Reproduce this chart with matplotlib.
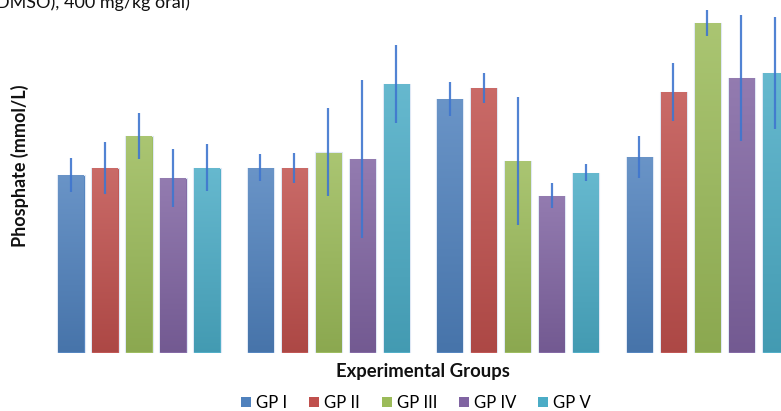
import numpy as np
import matplotlib
matplotlib.use("Agg")
import matplotlib.pyplot as plt
from matplotlib.patches import Patch
from matplotlib.colors import to_rgb

plt.rcParams["font.family"] = ["Lato", "DejaVu Sans"]

# ---- data (phosphate, mmol/L) ----
# one list per series, one value per block of bars
series = ["GP I", "GP II", "GP III", "GP IV", "GP V"]
phos_gp1 = [1.78, 1.85, 2.54, 1.96]
phos_gp2 = [1.85, 1.85, 2.65, 2.61]
phos_gp3 = [2.17, 2.01, 1.92, 3.30]
phos_gp4 = [1.75, 1.94, 1.57, 2.75]
phos_gp5 = [1.85, 2.69, 1.80, 2.80]
err_gp1 = [0.17, 0.135, 0.17, 0.21]
err_gp2 = [0.26, 0.15, 0.15, 0.285]
err_gp3 = [0.225, 0.435, 0.64, 0.13]
err_gp4 = [0.29, 0.79, 0.125, 0.635]
err_gp5 = [0.235, 0.385, 0.085, 0.555]

values = [phos_gp1, phos_gp2, phos_gp3, phos_gp4, phos_gp5]
errors = [err_gp1, err_gp2, err_gp3, err_gp4, err_gp5]
colors = ["#4f81bd", "#c0504d", "#9bbb59", "#8064a2", "#4bacc6"]

fig = plt.figure(figsize=(7.81, 4.11), dpi=100)
ax = fig.add_axes([0, 58 / 411, 1, 353 / 411])

n_blocks = len(phos_gp1)
centers = np.arange(n_blocks) * 5.57
width = 0.8

def shade(c, f):
    r = np.array(to_rgb(c))
    return r + (1 - r) * f if f > 0 else r * (1 + f)

for j, (name, vals, errs, c) in enumerate(zip(series, values, errors, colors)):
    x = centers + (j - 2)
    bars = ax.bar(x, vals, width, color=c, edgecolor="#dfe8f5", linewidth=0.8,
                  label=name, zorder=2)
    # vertical gradient: lighter at top, darker at bottom
    grad = np.linspace(0, 1, 64)[:, None]
    top, bot = shade(c, 0.15), shade(c, -0.1)
    img = top[None, None, :] * (1 - grad[..., None]) + bot[None, None, :] * grad[..., None]
    for b in bars:
        x0, y0 = b.get_x(), b.get_y()
        ax.imshow(img, extent=(x0 + 0.03, x0 + b.get_width() - 0.03, y0 + 0.01, b.get_height() - 0.01),
                  aspect="auto", zorder=3, interpolation="bilinear")
    ax.errorbar(x, vals, yerr=errs, fmt="none", ecolor="#3f76cf", elinewidth=1.6,
                capsize=0, alpha=0.9, zorder=4)

ax.set_xlim(-4.09, 18.88)
ax.set_ylim(0, 3.53)
ax.axis("off")

fig.text(20 / 781, 1 - 166 / 411, "Phosphate (mmol/L)", rotation=90, ha="center", va="center",
         fontsize=13, fontweight="bold", color="#111111")
fig.text(423 / 781, 1 - 371 / 411, "Experimental Groups", ha="center", va="center",
         fontsize=13.3, fontweight="bold", color="#111111")
# caption line above the chart, cropped at the top edge as in the source
fig.text(-0.005, 0.993, "DMSO), 400 mg/kg oral)", ha="left", va="center", fontsize=13, color="#111111")

handles = [Patch(facecolor=c, label=s) for s, c in zip(series, colors)]
fig.legend(handles=handles, loc="center", bbox_to_anchor=(416 / 781, 1 - 403 / 411), ncol=5,
           frameon=False, fontsize=12, handlelength=0.6, handleheight=0.6,
           handletextpad=0.3, columnspacing=1.3)

fig.savefig("out.png", dpi=100)
